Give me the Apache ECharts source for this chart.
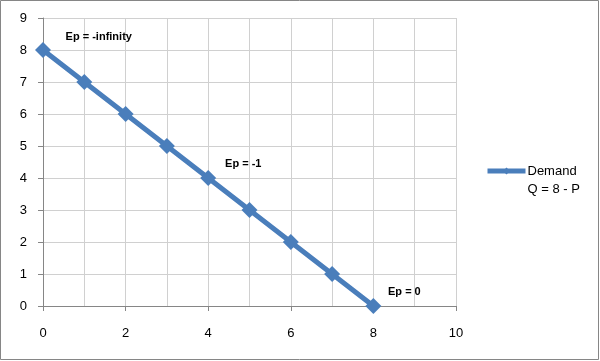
<!DOCTYPE html>
<html><head><meta charset="utf-8">
<script src="https://cdn.jsdelivr.net/npm/echarts@6/dist/echarts.min.js"></script>
<style>html,body{margin:0;padding:0;background:#fff}#c{width:600px;height:361px}</style>
</head><body><div id="c"></div>
<script>
const quantity = [0, 1, 2, 3, 4, 5, 6, 7, 8];
const price = [8, 7, 6, 5, 4, 3, 2, 1, 0];
const seriesName = 'Demand\nQ = 8 - P';
const notes = [
  {text: 'Ep = -infinity', x: 1.35, y: 8.4},
  {text: 'Ep = -1', x: 4.85, y: 4.45},
  {text: 'Ep = 0', x: 8.75, y: 0.45}
];
const chart = echarts.init(document.getElementById('c'));
const font = '"Liberation Sans", Arial, sans-serif';
chart.setOption({
  animation: false,
  grid: {left: 43, right: 144, top: 18, bottom: 55, containLabel: false},
  legend: {
    left: 485, top: 144, orient: 'vertical', padding: 0,
    itemWidth: 38, itemHeight: 9, itemGap: 2,
    lineStyle: {width: 5, color: '#4A7EBB'},
    formatter: name => ' \n' + name,
    textStyle: {fontFamily: font, fontSize: 13, color: '#000', lineHeight: 18, padding: [0, 0, 0, -3]},
    data: [seriesName]
  },
  xAxis: {
    type: 'value', min: 0, max: 10, interval: 2,
    axisLine: {show: true, onZero: false, lineStyle: {color: '#868686'}},
    axisTick: {show: true, length: 5, lineStyle: {color: '#868686'}},
    axisLabel: {fontFamily: font, fontSize: 13, color: '#000', margin: 21},
    splitLine: {show: true, lineStyle: {color: '#d0d0d0'}},
    minorTick: {show: false, splitNumber: 2},
    minorSplitLine: {show: true, lineStyle: {color: '#d0d0d0'}}
  },
  yAxis: {
    type: 'value', min: 0, max: 9, interval: 1,
    axisLine: {show: true, lineStyle: {color: '#868686'}},
    axisTick: {show: true, length: 5, lineStyle: {color: '#868686'}},
    axisLabel: {fontFamily: font, fontSize: 13, color: '#000', margin: 16},
    splitLine: {show: true, lineStyle: {color: '#d0d0d0'}}
  },
  series: [{
    name: seriesName, type: 'line',
    data: quantity.map((q, i) => [q, price[i]]),
    symbol: 'diamond', symbolSize: 16,
    lineStyle: {width: 5, color: '#4A7EBB'},
    itemStyle: {color: '#4A7EBB'},
    markPoint: {
      symbol: 'rect', symbolSize: 1,
      itemStyle: {color: 'rgba(0,0,0,0)'},
      label: {show: true, position: 'inside', color: '#000', fontFamily: font, fontSize: 11, fontWeight: 'bold',
        formatter: p => p.name},
      data: notes.map(n => ({name: n.text, coord: [n.x, n.y]}))
    }
  }],
  graphic: [{
    type: 'rect', shape: {x: 0.5, y: 0.5, width: 598, height: 359},
    style: {fill: null, stroke: '#868686', lineWidth: 1}, silent: true
  }]
});
</script></body></html>
